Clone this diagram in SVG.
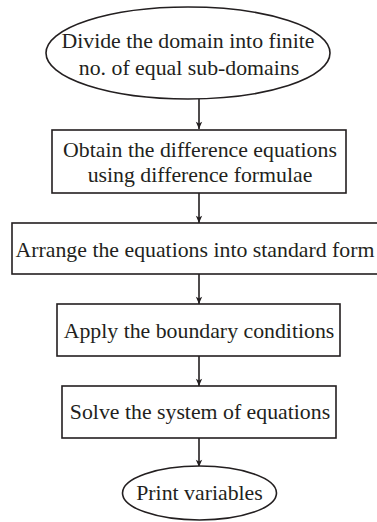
<svg xmlns="http://www.w3.org/2000/svg" width="377" height="522" viewBox="0 0 377 522">
<defs>
<marker id="ah" viewBox="0 0 8 10" refX="8" refY="5" markerWidth="8" markerHeight="9" markerUnits="userSpaceOnUse" orient="auto">
<path d="M0,1.5 L8,5 L0,8.5 L2,5 Z" fill="#231f20"/>
</marker>
<style>
.s{fill:#fff;stroke:#231f20;stroke-width:1.6}
.t{font-family:"Liberation Serif","Times New Roman",serif;font-size:21.8px;fill:#231f20;text-anchor:middle}
.c{stroke:#231f20;stroke-width:1.6;fill:none;marker-end:url(#ah)}
</style>
</defs>
<rect width="377" height="522" fill="#fff"/>
<g id="connectors">
<line class="c" x1="199" y1="99" x2="199" y2="129"/>
<line class="c" x1="199" y1="193" x2="199" y2="223"/>
<line class="c" x1="199" y1="274" x2="199" y2="304"/>
<line class="c" x1="199" y1="356" x2="199" y2="386"/>
<line class="c" x1="199" y1="438" x2="199" y2="467"/>
</g>
<g id="n1">
<ellipse class="s" cx="188" cy="53" rx="142" ry="46"/>
<text class="t" x="188" y="48">Divide the domain into finite</text>
<text class="t" x="189" y="75">no. of equal sub-domains</text>
</g>
<g id="n2">
<rect class="s" x="52" y="130" width="294" height="63"/>
<text class="t" x="200" y="157">Obtain the difference equations</text>
<text class="t" x="200" y="182">using difference formulae</text>
</g>
<g id="n3">
<rect class="s" x="12" y="223" width="370" height="51"/>
<text class="t" x="195" y="257">Arrange the equations into standard form</text>
</g>
<g id="n4">
<rect class="s" x="57" y="304" width="283" height="52"/>
<text class="t" x="199" y="338">Apply the boundary conditions</text>
</g>
<g id="n5">
<rect class="s" x="62" y="386" width="274" height="52"/>
<text class="t" x="200" y="419">Solve the system of equations</text>
</g>
<g id="n6">
<ellipse class="s" cx="199.5" cy="493" rx="77" ry="27"/>
<text class="t" x="199.5" y="500">Print variables</text>
</g>
</svg>
